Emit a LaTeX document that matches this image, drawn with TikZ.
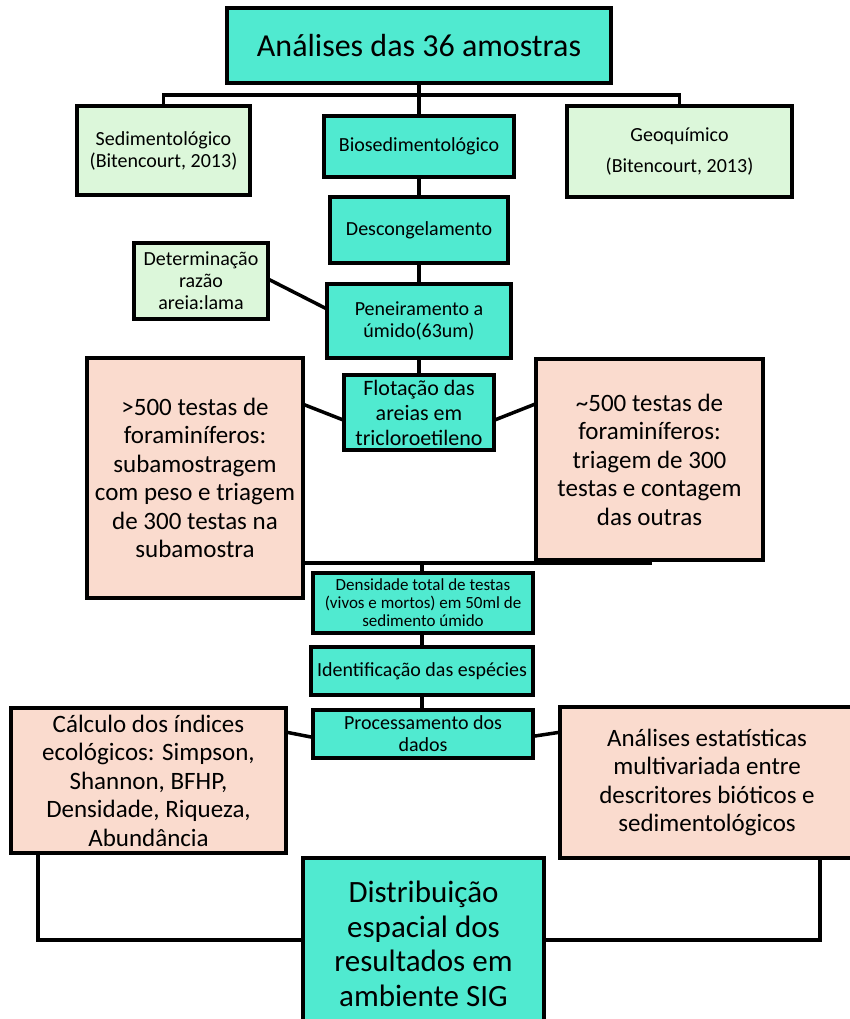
\documentclass[tikz,border=0pt]{standalone}
\usepackage{fontspec}
\setmainfont{Carlito}
\definecolor{turq}{RGB}{80,234,208}
\definecolor{lgreen}{RGB}{220,247,218}
\definecolor{peach}{RGB}{250,219,206}
\begin{document}
\begin{tikzpicture}[x=1pt,y=-1pt,
  box/.style={draw=black,line width=4pt,inner sep=0pt,align=center,rectangle},
  tq/.style={box,fill=turq},
  gr/.style={box,fill=lgreen},
  pk/.style={box,fill=peach},
  fs/.style={font=\fontsize{20}{22}\selectfont},
  fm/.style={font=\fontsize{25}{28.5}\selectfont},
  con/.style={line width=3.5pt,line cap=rect}]
\useasboundingbox (0,0) rectangle (849,1019);
\fill[white] (0,0) rectangle (849,1019);
% nodes
\node[tq,minimum width=384pt,minimum height=75pt,font=\fontsize{32}{36}\selectfont] (top) at (419,45.5) {Análises das 36 amostras};
\node[gr,fs,minimum width=173pt,minimum height=89pt] (sed) at (163.5,150.5) {Sedimentológico\\(Bitencourt, 2013)};
\node[tq,fs,minimum width=190pt,minimum height=61pt] (bio) at (419,146.5) {Biosedimentológico};
\node[gr,minimum width=225pt,minimum height=91pt,font=\fontsize{20}{31}\selectfont] (geo) at (679.5,151.5) {Geoquímico\\(Bitencourt, 2013)};
\node[tq,fs,minimum width=178pt,minimum height=66pt] (desc) at (419,230) {Descongelamento};
\node[gr,fs,minimum width=134pt,minimum height=76pt] (det) at (201,281) {Determinação\\razão\\areia:lama};
\node[tq,fs,minimum width=184pt,minimum height=74pt] (pen) at (419,321) {Peneiramento a\\úmido(63um)};
\node[pk,fm,minimum width=216pt,minimum height=240pt] (lbox) at (195,478) {>500 testas de\\foraminíferos:\\subamostragem\\com peso e triagem\\de 300 testas na\\subamostra};
\node[tq,minimum width=150pt,minimum height=75pt,font=\fontsize{22}{25}\selectfont] (flot) at (419,412.5) {Flotação das\\areias em\\tricloroetileno};
\node[pk,fm,minimum width=227pt,minimum height=201pt] (rbox) at (649.5,459.5) {\textasciitilde500 testas de\\foraminíferos:\\triagem de 300\\testas e contagem\\das outras};
\node[tq,minimum width=220pt,minimum height=60pt,font=\fontsize{17}{18}\selectfont] (dens) at (423,603) {Densidade total de testas\\(vivos e mortos) em 50ml de\\sedimento úmido};
\node[tq,fs,minimum width=222pt,minimum height=48pt] (ident) at (422,671) {Identificação das espécies};
\node[tq,fs,minimum width=220pt,minimum height=48pt] (proc) at (423,734) {Processamento dos\\dados};
\node[pk,fm,minimum width=275pt,minimum height=145pt] (calc) at (148.5,780.5) {Cálculo dos índices\\ecológicos: Simpson,\\Shannon, BFHP,\\Densidade, Riqueza,\\Abundância};
\node[pk,fm,minimum width=294pt,minimum height=151pt] (stat) at (707,782.5) {Análises estatísticas\\multivariada entre\\descritores bióticos e\\sedimentológicos};
\node[tq,minimum width=241pt,minimum height=172pt,font=\fontsize{31}{34.5}\selectfont] (dist) at (423.5,944) {Distribuição\\espacial dos\\resultados em\\ambiente SIG};
% connectors
\draw[con] (top.south) -- (top.south |- bio.north);
\draw[con] (sed.north) -- ++(0,-9) -| (geo.north);
\draw[con] (bio.south) -- (bio.south |- desc.north);
\draw[con] (desc.south) -- (desc.south |- pen.north);
\draw[con] ([yshift=1pt]det.east) -- ([yshift=13pt]pen.west);
\draw[con] (pen.south) -- (pen.south |- flot.north);
\draw[con] ([yshift=73pt]lbox.east) -- ([yshift=-7pt]flot.west);
\draw[con] ([yshift=-7pt]flot.east) -- ([yshift=55pt]rbox.west);
\coordinate (lnk) at (650,563);
\coordinate (jn) at (422,563);
\draw[con] ([yshift=-85pt]lbox.east) -- (lnk);
\draw[con] (jn) -- (jn |- dens.north);
\draw[con] (dens.south -| jn) -- (jn |- ident.north);
\draw[con] (ident.south -| jn) -- (jn |- proc.north);
\draw[con] ([yshift=48pt]calc.east) -- ([yshift=-3pt]proc.west);
\draw[con] ([yshift=-2pt]proc.east) -- ([yshift=50pt]stat.west);
\draw[con] (calc.south -| 38,0) |- (dist.west |- 0,940);
\draw[con] (stat.south -| 820,0) |- (dist.east |- 0,940);
\end{tikzpicture}
\end{document}
